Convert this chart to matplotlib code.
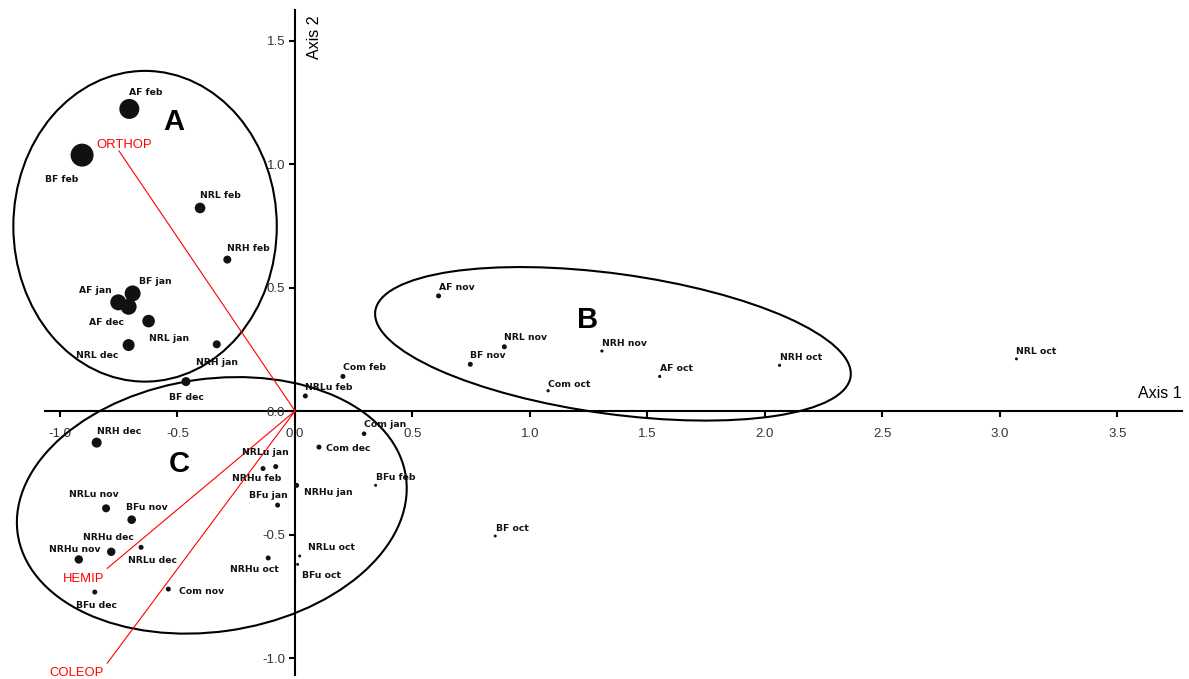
import numpy as np
import matplotlib.pyplot as plt
from matplotlib.patches import Ellipse

# sample scores on the two ordination axes
names = ['AF feb', 'BF feb', 'NRL feb', 'NRH feb', 'BF jan', 'AF jan', 'AF dec',
         'NRL jan', 'NRL dec', 'NRH jan', 'BF dec',
         'NRLu feb', 'NRH dec', 'Com jan', 'Com dec', 'NRLu jan', 'NRHu feb',
         'NRHu jan', 'BFu feb', 'BFu jan', 'NRLu nov', 'BFu nov', 'NRLu dec',
         'NRHu dec', 'NRHu nov', 'NRLu oct', 'BFu oct', 'NRHu oct', 'Com nov',
         'BFu dec',
         'AF nov', 'NRL nov', 'BF nov', 'NRH nov', 'Com feb', 'AF oct',
         'Com oct', 'NRH oct', 'NRL oct', 'BF oct']
axis1 = [-0.705, -0.906, -0.404, -0.288, -0.691, -0.752, -0.708,
         -0.623, -0.708, -0.333, -0.464,
         0.044, -0.844, 0.294, 0.102, -0.082, -0.136,
         0.007, 0.343, -0.074, -0.804, -0.695, -0.655,
         -0.782, -0.920, 0.020, 0.011, -0.114, -0.539,
         -0.852,
         0.611, 0.891, 0.746, 1.306, 0.204, 1.552,
         1.077, 2.062, 3.070, 0.852]
axis2 = [1.223, 1.036, 0.822, 0.613, 0.476, 0.440, 0.422,
         0.364, 0.267, 0.270, 0.119,
         0.061, -0.128, -0.092, -0.146, -0.225, -0.233,
         -0.301, -0.301, -0.381, -0.394, -0.440, -0.552,
         -0.570, -0.601, -0.587, -0.621, -0.595, -0.721,
         -0.733,
         0.466, 0.260, 0.189, 0.243, 0.140, 0.140,
         0.082, 0.185, 0.211, -0.506]
# relative abundance (symbol radius)
abund = [10, 11.5, 5.3, 4, 8, 8, 8,
         6.3, 6, 4, 4.5,
         2.5, 5, 2.3, 2.5, 2.5, 2.5,
         2.5, 1.5, 2.5, 4, 4.3, 2.5,
         4.2, 4.2, 1.5, 1.5, 2.5, 2.5,
         2.5,
         2.5, 2.5, 2.5, 1.6, 2.5, 1.6,
         1.6, 1.6, 1.5, 1.5]

# label offsets from the symbol (pixels, left edge / middle of text)
lab_off = [(0, 16.3), (-37, -24.3), (0, 12.3), (0, 11), (6, 11.6), (-39.3, 11.6),
           (-39.7, -16), (0, -17.3), (-52.4, -10.7), (-21, -18.4), (-17, -15.6),
           (0, 8.7), (0.6, 10.7), (0, 9.4), (7, -1.7), (-33.4, 14.4), (-31.3, -9.6),
           (7.3, -7.4), (0, 8), (-29, 9.3), (-36.7, 13.6), (-5.7, 12.4),
           (-13.3, -13.4), (-28.6, 14.4), (-30, 10.3), (8.6, 8.7), (4.3, -11.4),
           (-38.6, -11.3), (10.7, -2.3), (-18.7, -13.3),
           (0, 8.3), (0, 9), (0, 8.6), (0, 7.7), (0, 8.6), (0, 7.6),
           (0, 6.7), (0, 7.6), (0, 7.3), (0.7, 7.7)]

# taxa vectors
taxa = ['ORTHOP', 'HEMIP', 'COLEOP']
taxa_x = [-0.749, -0.799, -0.799]
taxa_y = [1.053, -0.637, -1.021]
taxa_off = [(-23, 6), (-44, -11), (-58, -9.7)]

# groups
groups = ['A', 'B', 'C']
grp_x = [-0.638, 1.353, -0.354]
grp_y = [0.748, 0.272, -0.382]
grp_w = [1.121, 2.04, 1.668]
grp_h = [1.258, 0.568, 1.024]
grp_ang = [0, -7.4, 7.6]
grp_lab_x = [-0.515, 1.245, -0.491]
grp_lab_y = [1.170, 0.368, -0.213]

fig = plt.figure(figsize=(11.89, 6.79), dpi=100)
ax = fig.add_axes([0, 0, 1, 1])
ax.set_xlim(-1.2553, 3.8043)
ax.set_ylim(-1.085, 1.664)

for i in range(len(groups)):
    ax.add_patch(Ellipse((grp_x[i], grp_y[i]), grp_w[i], grp_h[i],
                         angle=grp_ang[i], fill=False, ec='black', lw=1.5,
                         zorder=2))
    ax.text(grp_lab_x[i], grp_lab_y[i], groups[i], fontsize=21,
            fontweight='bold', family='Liberation Sans', ha='center',
            va='center', zorder=5)

for i in range(len(taxa)):
    ax.plot([0, taxa_x[i]], [0, taxa_y[i]], color='red', lw=0.8, zorder=3)
    ax.annotate(taxa[i], (taxa_x[i], taxa_y[i]),
                xytext=(taxa_off[i][0]*0.72, taxa_off[i][1]*0.72),
                textcoords='offset points', ha='left', va='center',
                fontsize=9.4, family='Liberation Sans', color='red')

sizes = [(2*r*0.72)**2 for r in abund]
ax.scatter(axis1, axis2, s=sizes, color='#111111', linewidths=0, zorder=4)
for i in range(len(names)):
    ax.annotate(names[i], (axis1[i], axis2[i]),
                xytext=(lab_off[i][0]*0.72, lab_off[i][1]*0.72),
                textcoords='offset points', ha='left', va='center',
                fontsize=6.7, fontweight='bold', family='DejaVu Sans',
                color='#111111', zorder=5)

# axes through the origin
for s in ['top', 'right']:
    ax.spines[s].set_visible(False)
ax.spines['left'].set_position(('data', 0))
ax.spines['bottom'].set_position(('data', 0))
ax.spines['left'].set_bounds(-1.069, 1.623)
ax.spines['bottom'].set_bounds(-1.064, 3.774)
ax.spines['left'].set_linewidth(1.5)
ax.spines['bottom'].set_linewidth(1.5)
ax.spines['left'].set_zorder(1)
ax.spines['bottom'].set_zorder(1)

xt = np.arange(-1.0, 3.51, 0.5)
yt = np.arange(-1.0, 1.51, 0.5)
ax.set_xticks(xt)
ax.set_xticklabels(['%.1f' % v for v in xt])
ax.set_yticks(yt)
ax.set_yticklabels(['%.1f' % v for v in yt])
ax.tick_params(direction='out', length=4, width=1.5, pad=3,
               labelsize=9.5, labelcolor='#333333')
ax.tick_params(axis='x', pad=8)
for lab in ax.get_xticklabels() + ax.get_yticklabels():
    lab.set_family('Liberation Sans')

ax.text(3.774, 0.069, 'Axis 1', fontsize=11.5, family='Liberation Sans',
        ha='right', va='center')
ax.text(0.081, 1.603, 'Axis 2', fontsize=11.5, family='Liberation Sans',
        ha='center', va='top', rotation=90)

fig.savefig('out.png', dpi=100)
